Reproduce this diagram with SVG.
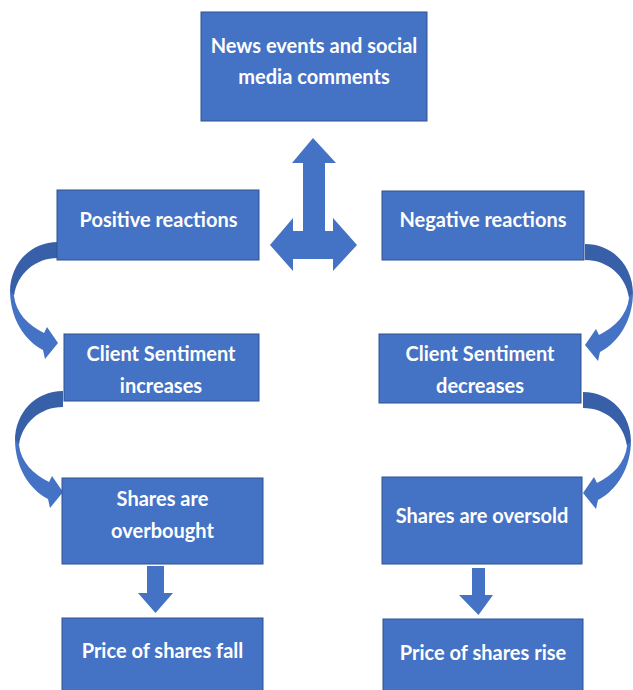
<svg xmlns="http://www.w3.org/2000/svg" width="633" height="690" viewBox="0 0 633 690">
<defs>
<style>
.box{fill:#4472C4;stroke:#2F528F;stroke-width:1}
.t{fill:#FFFFFF;font-family:Lato,"Open Sans","Liberation Sans",sans-serif;font-weight:bold;font-size:20px;text-anchor:middle}
.arr{fill:#4472C4;stroke:none}
.back{fill:#3760A9;stroke:none}
</style>
<g id="curvedArrow">
<path class="back" d="M 58 242 C 30 242, 10 264, 10 292 L 14 296 C 17 274, 35 258, 58 258 Z"/>
<path class="arr" d="M 10 290 C 10 318, 24 340, 43 350 L 45 359 L 58 343 L 47 327 L 44 333 C 28 325, 16 313, 14 296 Z"/>
</g>
</defs>
<rect width="633" height="690" fill="#FFFFFF"/>
<g id="connectors">
<path class="arr" d="M 313 138 L 336 163 L 325 163 L 325 231 L 333 231 L 333 218 L 357 245 L 333 271 L 333 259 L 293 259 L 293 271 L 270 245 L 293 218 L 293 231 L 303 231 L 303 163 L 292 163 Z"/>
<use href="#curvedArrow"/>
<use href="#curvedArrow" transform="translate(5,149)"/>
<use href="#curvedArrow" transform="translate(643,2) scale(-1,1)"/>
<use href="#curvedArrow" transform="translate(641,150) scale(-1,1)"/>
<path class="arr" d="M 147 566 L 164 566 L 164 593 L 173 593 L 155.5 613 L 138 593 L 147 593 Z"/>
<path class="arr" d="M 472 568 L 485 568 L 485 595 L 493 595 L 478.5 615 L 459 595 L 472 595 Z"/>
</g>
<g id="news">
<rect class="box" x="201" y="12" width="226" height="109"/>
<text class="t" x="314" y="53">News events and social</text>
<text class="t" x="314" y="84">media comments</text>
</g>
<g id="positive">
<rect class="box" x="57" y="190" width="202" height="70"/>
<text class="t" x="158.5" y="227">Positive reactions</text>
</g>
<g id="negative">
<rect class="box" x="382" y="191" width="202" height="69"/>
<text class="t" x="483" y="227">Negative reactions</text>
</g>
<g id="increases">
<rect class="box" x="64" y="334" width="195" height="67"/>
<text class="t" x="161" y="361">Client Sentiment</text>
<text class="t" x="161" y="393">increases</text>
</g>
<g id="decreases">
<rect class="box" x="379" y="334" width="202" height="69"/>
<text class="t" x="480" y="361">Client Sentiment</text>
<text class="t" x="480" y="393">decreases</text>
</g>
<g id="overbought">
<rect class="box" x="62" y="478" width="201" height="86"/>
<text class="t" x="162.5" y="506">Shares are</text>
<text class="t" x="162.5" y="538">overbought</text>
</g>
<g id="oversold">
<rect class="box" x="382" y="477" width="200" height="87"/>
<text class="t" x="482" y="523">Shares are oversold</text>
</g>
<g id="fall">
<rect class="box" x="62" y="618" width="201" height="80"/>
<text class="t" x="162.5" y="658">Price of shares fall</text>
</g>
<g id="rise">
<rect class="box" x="383" y="619" width="200" height="80"/>
<text class="t" x="483" y="660">Price of shares rise</text>
</g>
</svg>
